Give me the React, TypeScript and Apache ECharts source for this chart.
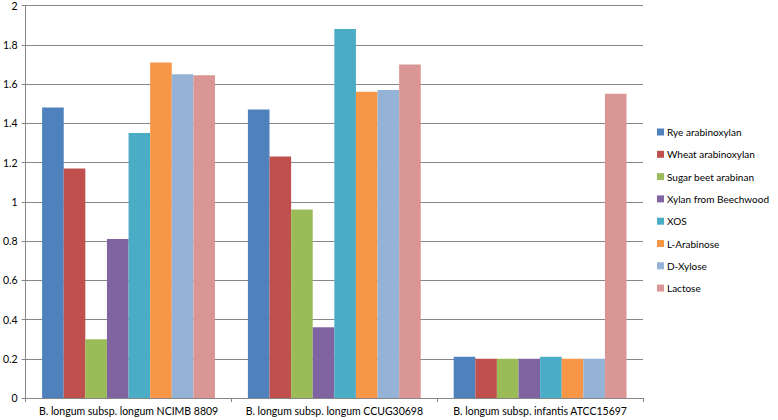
import React, { useEffect, useRef } from "react";
import * as echarts from "echarts";

const categories = [
  "B. longum subsp. longum NCIMB 8809",
  "B. longum subsp. longum CCUG30698",
  "B. longum subsp. infantis ATCC15697",
];

const seriesNames = [
  "Rye arabinoxylan",
  "Wheat arabinoxylan",
  "Sugar beet arabinan",
  "Xylan from Beechwood",
  "XOS",
  "L-Arabinose",
  "D-Xylose",
  "Lactose",
];

const ryeArabinoxylan = [1.48, 1.47, 0.21];
const wheatArabinoxylan = [1.17, 1.23, 0.2];
const sugarBeetArabinan = [0.3, 0.96, 0.2];
const xylanBeechwood = [0.81, 0.36, 0.2];
const xos = [1.35, 1.88, 0.21];
const lArabinose = [1.71, 1.56, 0.2];
const dXylose = [1.65, 1.57, 0.2];
const lactose = [1.645, 1.7, 1.55];

const seriesValues = [
  ryeArabinoxylan,
  wheatArabinoxylan,
  sugarBeetArabinan,
  xylanBeechwood,
  xos,
  lArabinose,
  dXylose,
  lactose,
];

const colors = [
  "#4F81BD",
  "#C0504D",
  "#9BBB59",
  "#8064A2",
  "#4BACC6",
  "#F79646",
  "#95B3D7",
  "#D99694",
];

const FONT = "Lato, 'Liberation Sans', sans-serif";

export default function App() {
  const ref = useRef<HTMLDivElement>(null);

  useEffect(() => {
    if (!ref.current) return;
    const chart = echarts.init(ref.current, null, { renderer: "svg" });
    chart.setOption({
      animation: false,
      backgroundColor: "#ffffff",
      color: colors,
      textStyle: { fontFamily: FONT },
      grid: { left: 25, right: 135, top: 4, bottom: 22, containLabel: false },
      legend: {
        orient: "vertical",
        left: 657,
        top: 127,
        padding: 0,
        itemWidth: 7,
        itemHeight: 7,
        itemGap: 12.3,
        icon: "rect",
        textStyle: { fontSize: 10, color: "#000", fontFamily: FONT, padding: [0, 0, 0, -2] },
        data: seriesNames,
      },
      xAxis: {
        type: "category",
        data: categories,
        axisLine: { lineStyle: { color: "#868686", width: 1 } },
        axisTick: { show: true, length: 4, lineStyle: { color: "#868686" } },
        axisLabel: { fontSize: 10.5, color: "#000", margin: 7, fontFamily: FONT, interval: 0 },
      },
      yAxis: {
        type: "value",
        min: 0,
        max: 2,
        interval: 0.2,
        axisLine: { show: true, lineStyle: { color: "#868686", width: 1 } },
        axisTick: { show: true, length: 4, lineStyle: { color: "#868686" } },
        axisLabel: { fontSize: 10.5, color: "#000", margin: 8, fontFamily: FONT },
        splitLine: { show: true, lineStyle: { color: "#868686", width: 1 } },
      },
      series: seriesNames.map((name, i) => ({
        name,
        type: "bar",
        data: seriesValues[i],
        barGap: "0%",
        barCategoryGap: "16%",
        itemStyle: { color: colors[i] },
      })),
    });
    return () => chart.dispose();
  }, []);

  return (
    <div
      ref={ref}
      style={{ position: "absolute", left: 0, top: 0, width: 778, height: 420 }}
    />
  );
}
